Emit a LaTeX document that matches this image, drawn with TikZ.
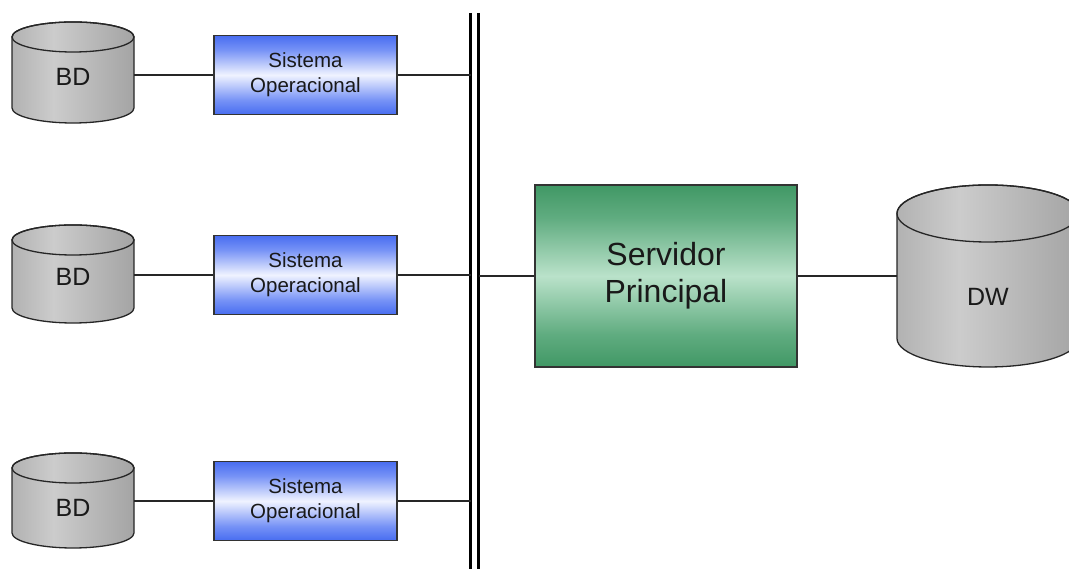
\documentclass[tikz,border=0pt]{standalone}
\usepackage{fontspec}
\setmainfont{Liberation Sans}

% palette
\definecolor{cylA}{RGB}{110,110,110}
\definecolor{cylB}{RGB}{158,158,158}
\definecolor{cylC}{RGB}{204,204,204}
\definecolor{bluD}{RGB}{36,80,236}
\definecolor{bluM}{RGB}{118,146,246}
\definecolor{bluL}{RGB}{240,243,255}
\definecolor{grnD}{RGB}{40,136,80}
\definecolor{grnM}{RGB}{96,172,128}
\definecolor{grnL}{RGB}{186,226,202}
\definecolor{ink}{RGB}{25,25,25}

% gray drum, lit slightly left of centre
\pgfdeclarehorizontalshading{cylgray}{100bp}{color(0bp)=(cylA); color(12bp)=(cylB); color(42bp)=(cylC); color(80bp)=(cylB); color(100bp)=(cylA)}
% blue band: dark edges, pale middle
\pgfdeclareverticalshading{blueband}{100bp}{color(0bp)=(bluD); color(18bp)=(bluD); color(34bp)=(bluM); color(50bp)=(bluL); color(66bp)=(bluM); color(82bp)=(bluD); color(100bp)=(bluD)}
% green band
\pgfdeclareverticalshading{greenband}{100bp}{color(0bp)=(grnD); color(18bp)=(grnD); color(34bp)=(grnM); color(50bp)=(grnL); color(66bp)=(grnM); color(82bp)=(grnD); color(100bp)=(grnD)}

% drum: centre x, top-ellipse centre y, bottom-ellipse centre y, x radius, y radius
\newcommand\drumshape[5]{%
  \shade[shading=cylgray, draw=black!85, line width=1.3pt]
    (#1-#4,#2) -- (#1-#4,#3)
    arc[start angle=180, end angle=360, x radius=#4, y radius=#5]
    -- (#1+#4,#2)
    arc[start angle=0, end angle=180, x radius=#4, y radius=#5] -- cycle;
  \draw[black!85, line width=1.3pt] (#1,#2) ellipse[x radius=#4, y radius=#5];}

\begin{document}
\begin{tikzpicture}[x=1pt, y=1pt,
  link/.style={draw=black!85, line width=1.6pt},
  sysbox/.style={draw=black!80, line width=1.6pt, shading=blueband,
    minimum width=183pt, minimum height=79pt, inner sep=0pt, align=center,
    text=ink, font=\fontsize{20.5}{25}\selectfont},
  srvbox/.style={draw=black!80, line width=1.6pt, shading=greenband,
    minimum width=262pt, minimum height=182pt, inner sep=0pt, align=center,
    text=ink, font=\fontsize{32}{37}\selectfont},
  drumtext/.style={inner sep=0pt, text=ink, font=\fontsize{25}{30}\selectfont},
  busbar/.style={draw=black, line width=3.6pt}]
\useasboundingbox (0,0) rectangle (1069,569);

% source databases
\drumshape{73}{532}{461}{61}{15}
\drumshape{73}{329}{261}{61}{15}
\drumshape{73}{101}{36}{61}{15}
\node[drumtext, minimum width=122pt] (bd1) at (73,492) {BD};
\node[drumtext, minimum width=122pt] (bd2) at (73,292) {BD};
\node[drumtext, minimum width=122pt] (bd3) at (73,61) {BD};

% operational systems
\node[sysbox] (so1) at (305.5,494) {Sistema\\Operacional};
\node[sysbox] (so2) at (305.5,294) {Sistema\\Operacional};
\node[sysbox] (so3) at (305.5,68) {Sistema\\Operacional};

% double bus
\coordinate (busLtop) at (470.5,556);
\coordinate (busLbot) at (470.5,-2);
\coordinate (busRtop) at (478.5,556);
\coordinate (busRbot) at (478.5,-2);
\draw[busbar] (busLtop) -- (busLbot);
\draw[busbar] (busRtop) -- (busRbot);

% main server
\node[srvbox] (srv) at (666,293) {Servidor\\Principal};

% data warehouse
\begin{scope}
  \clip (0,0) rectangle (1069,569);
  \drumshape{988}{355.5}{230.5}{91}{28.5}
\end{scope}
\node[drumtext, minimum width=182pt] (dw) at (988,272) {DW};

% connectors
\draw[link] (bd1.east |- so1.west) -- (so1.west);
\draw[link] (bd2.east |- so2.west) -- (so2.west);
\draw[link] (bd3.east |- so3.west) -- (so3.west);
\draw[link] (so1.east) -- (so1.east -| busLtop);
\draw[link] (so2.east) -- (so2.east -| busLtop);
\draw[link] (so3.east) -- (so3.east -| busLtop);
\draw[link] (srv.west -| busRtop) -- (srv.west);
\draw[link] (srv.east) -- (srv.east -| dw.west);
\end{tikzpicture}
\end{document}
